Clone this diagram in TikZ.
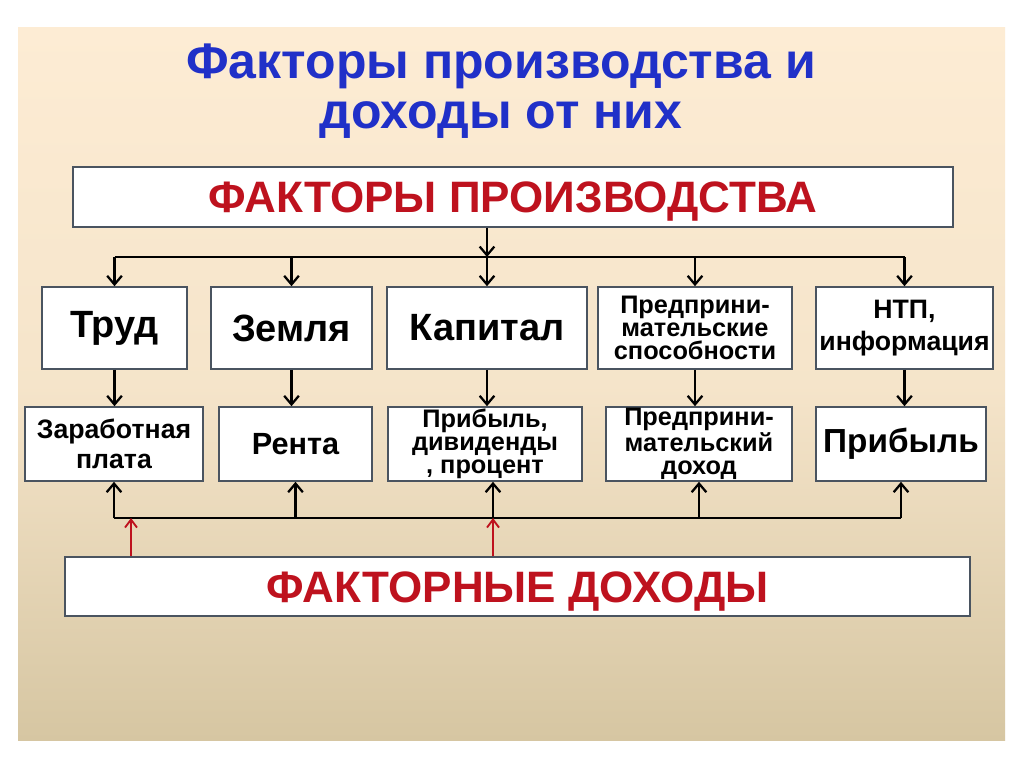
\documentclass[tikz,border=0pt]{standalone}
\usepackage{fontspec}
\setmainfont{Liberation Sans}
\usetikzlibrary{arrows.meta,positioning}
\definecolor{slidetop}{RGB}{253,236,212}
\definecolor{slidebot}{RGB}{214,198,162}
\definecolor{titleblue}{RGB}{32,48,200}
\definecolor{factred}{RGB}{190,18,30}
\definecolor{boxline}{RGB}{74,84,96}

\begin{document}
\begin{tikzpicture}[x=0.75pt, y=-0.75pt,
    box/.style={rectangle, draw=boxline, line width=1.2pt, fill=white, inner sep=1pt, align=center},
    head/.style={box, minimum height=45pt, text=factred, text height=23.5pt, text depth=0pt, font=\fontsize{33}{36}\selectfont\bfseries},
    fact/.style={box, minimum height=61.5pt},
    inc/.style={box, minimum height=55.5pt},
    big/.style={font=\fontsize{28.5}{30}\selectfont\bfseries},
    small/.style={font=\fontsize{19}{17.5}\selectfont\bfseries},
    flow/.style={-{Straight Barb[length=6.5pt,width=11pt,line width=1.7pt]}, line width=1.8pt},
    feed/.style={-{Straight Barb[length=6pt,width=9pt,line width=1.4pt]}, line width=1.5pt, draw=factred}
]
    \useasboundingbox (0,0) rectangle (1024,767);
    \fill[white] (0,0) rectangle (1024,767);
    \shade[top color=slidetop, bottom color=slidebot, middle color=slidetop!80!slidebot] (18,28) rectangle (1005,740);

    % Title
    \node[text=titleblue, font=\fontsize{37.5}{38}\selectfont\bfseries, align=center] (title) at (501,91) {Факторы производства и\\доходы от них};

    % Factors
    \node[head, minimum width=660pt] (prod) at (513,197) {ФАКТОРЫ ПРОИЗВОДСТВА};
    \node[fact, big, minimum width=108.75pt] (labour) at (114.5,328) {Труд};
    \node[fact, big, minimum width=120.75pt] (land) at (291.5,328) {Земля};
    \node[fact, big, minimum width=150pt] (capital) at (487,328) {Капитал};
    \node[fact, small, minimum width=145.5pt] (entre) at (695,328) {Предприни-\\мательские\\способности};
    \node[fact, minimum width=132.75pt, font=\fontsize{20}{24}\selectfont\bfseries] (tech) at (904.5,328) {НТП,\\информация};

    % Incomes
    \node[inc, minimum width=133.5pt, font=\fontsize{20}{23}\selectfont\bfseries] (wage) at (114,444) {Заработная\\плата};
    \node[inc, minimum width=114.75pt, font=\fontsize{23}{26}\selectfont\bfseries] (rent) at (295.5,444) {Рента};
    \node[inc, small, minimum width=145.5pt] (profit) at (485,444) {Прибыль,\\дивиденды\\, процент};
    \node[inc, small, minimum width=139.5pt] (entinc) at (699,444) {Предприни-\\мательский\\доход};
    \node[inc, minimum width=127.5pt, font=\fontsize{25}{28}\selectfont\bfseries] (gain) at (901,444) {Прибыль};
    \node[head, minimum width=678.75pt, minimum height=44.25pt] (income) at (517.5,586.5) {ФАКТОРНЫЕ ДОХОДЫ};

    % Buses
    \coordinate (topbus) at (0,257);
    \coordinate (botbus) at (0,518);
    \coordinate (feedA) at (131,518);
    \coordinate (feedB) at (493,518);

    \draw[flow] (prod.south -| capital) -- (capital |- topbus);
    \draw[line width=1.8pt] (labour |- topbus) -- (tech |- topbus);
    \foreach \n in {labour,land,capital,entre,tech}
        \draw[flow] (\n |- topbus) -- (\n.north);

    \foreach \a/\b in {labour/wage,land/rent,capital/profit,entre/entinc,tech/gain}
        \draw[flow] (\a.south) -- (\a.south |- \b.north);

    \draw[line width=1.8pt] (wage |- botbus) -- (gain |- botbus);
    \foreach \b in {wage,rent,entinc,gain}
        \draw[flow] (\b |- botbus) -- (\b.south);
    \draw[flow] (feedB) -- (feedB |- profit.south);

    \draw[feed] (income.north -| feedA) -- (feedA);
    \draw[feed] (income.north -| feedB) -- (feedB);
\end{tikzpicture}
\end{document}
